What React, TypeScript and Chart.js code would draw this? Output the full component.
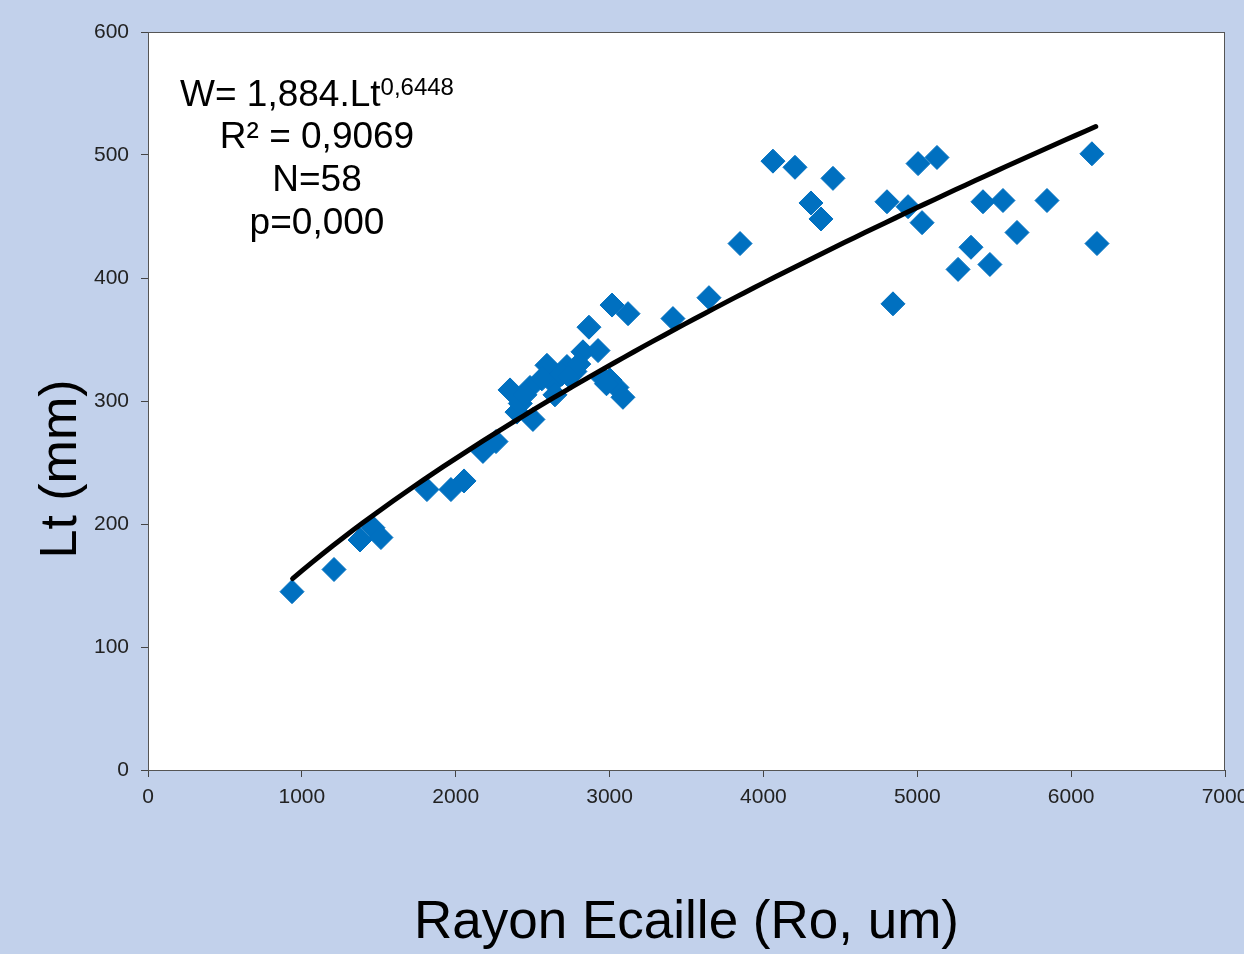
import React, { useEffect, useRef } from 'react';
import { Chart, registerables } from 'chart.js';

Chart.register(...registerables);

// Scatter data: scale radius (um) vs total length (mm)
const rayonValues = [
  936, 1209, 1378, 1462, 1514, 1813, 1969, 2054, 2177, 2262,
  2353, 2398, 2483, 2502, 2593, 2632, 2645, 2723, 2775, 2827,
  2866, 2925, 3003, 3016, 3048, 3087, 3120, 2420, 2560, 2690,
  2740, 2800, 2960, 2980, 2450,
  3412, 3646, 3848, 4062, 4205, 4452, 4309, 4374, 4803, 4940,
  5031, 4842, 5005, 5128, 5427, 5557, 5843, 5648, 5349, 5265,
  5472, 6135, 6168,
];
const longueurValues = [
  145, 163, 187, 197, 189, 228, 228, 235, 259, 267,
  309, 291, 311, 285, 329, 315, 305, 328, 324, 340,
  360, 341, 317, 378, 311, 303, 371, 298, 318, 322,
  320, 330, 318, 314, 305,
  367, 384, 428, 495, 490, 481, 461, 448, 462, 458,
  445, 379, 493, 498, 462, 463, 463, 437, 425, 407,
  411, 501, 428,
];

// Power trend line (from the equation shown on the chart)
const fitA = 1.884;
const fitB = 0.6448;
const fitXStart = 940;
const fitXEnd = 6160;
const fitSteps = 80;

const xTickValues = [0, 1000, 2000, 3000, 4000, 5000, 6000, 7000];
const yTickValues = [0, 100, 200, 300, 400, 500, 600];

const equationLines = ['R² = 0,9069', 'N=58', 'p=0,000'];
const equationMain = 'W= 1,884.Lt';
const equationSup = '0,6448';
const xTitle = 'Rayon Ecaille (Ro, um)';
const yTitle = 'Lt (mm)';

const BG = '#C2D1EB';
const FONT = '"Liberation Sans", Arial, sans-serif';

export default function App() {
  const ref = useRef<HTMLCanvasElement | null>(null);

  useEffect(() => {
    const canvas = ref.current;
    if (!canvas) return;

    const scatterData = rayonValues.map((x, i) => ({ x, y: longueurValues[i] }));
    const trendData: { x: number; y: number }[] = [];
    for (let i = 0; i <= fitSteps; i++) {
      const x = fitXStart + ((fitXEnd - fitXStart) * i) / fitSteps;
      trendData.push({ x, y: fitA * Math.pow(x, fitB) });
    }

    const decorPlugin = {
      id: 'decor',
      beforeDraw(chart: any) {
        const { ctx, chartArea } = chart;
        ctx.save();
        ctx.fillStyle = BG;
        ctx.fillRect(0, 0, chart.width, chart.height);
        ctx.fillStyle = '#FFFFFF';
        ctx.fillRect(chartArea.left, chartArea.top, chartArea.right - chartArea.left, chartArea.bottom - chartArea.top);
        ctx.restore();
      },
      afterDraw(chart: any) {
        const { ctx, chartArea } = chart;
        ctx.save();
        ctx.strokeStyle = '#555555';
        ctx.lineWidth = 1;
        ctx.strokeRect(chartArea.left + 0.5, chartArea.top + 0.5, chartArea.right - chartArea.left - 1, chartArea.bottom - chartArea.top);

        // equation text
        ctx.fillStyle = '#000000';
        ctx.textBaseline = 'alphabetic';
        const cx = 317;
        ctx.font = `37px ${FONT}`;
        const wMain = ctx.measureText(equationMain).width;
        ctx.font = `24px ${FONT}`;
        const wSup = ctx.measureText(equationSup).width;
        const startX = cx - (wMain + wSup) / 2;
        ctx.font = `37px ${FONT}`;
        ctx.textAlign = 'left';
        ctx.fillText(equationMain, startX, 106);
        ctx.font = `24px ${FONT}`;
        ctx.fillText(equationSup, startX + wMain, 95);
        ctx.font = `37px ${FONT}`;
        ctx.textAlign = 'center';
        equationLines.forEach((t, i) => ctx.fillText(t, cx, 148 + i * 43));

        // axis titles
        ctx.font = `53px ${FONT}`;
        ctx.textAlign = 'center';
        ctx.fillText(xTitle, (chartArea.left + chartArea.right) / 2, 938);
        ctx.font = `52px ${FONT}`;
        ctx.translate(76, 469);
        ctx.rotate(-Math.PI / 2);
        ctx.fillText(yTitle, 0, 0);
        ctx.restore();
      },
    };

    const chart = new Chart(canvas, {
      type: 'scatter',
      data: {
        datasets: [
          {
            label: 'Tendance',
            data: trendData,
            showLine: true,
            borderColor: '#000000',
            borderWidth: 5,
            pointRadius: 0,
            pointHoverRadius: 0,
            tension: 0,
            borderCapStyle: 'round',
            order: 0,
          } as any,
          {
            label: 'Lt',
            data: scatterData,
            pointStyle: 'rectRot',
            pointRadius: 12,
            pointHoverRadius: 12,
            backgroundColor: '#0070C0',
            borderColor: '#0070C0',
            borderWidth: 1,
            order: 1,
          } as any,
        ],
      },
      options: {
        responsive: false,
        animation: false,
        devicePixelRatio: 1,
        layout: { padding: { left: 0, right: 19, top: 32, bottom: 124 } },
        plugins: { legend: { display: false }, tooltip: { enabled: false } },
        scales: {
          x: {
            type: 'linear',
            min: 0,
            max: 7000,
            afterBuildTicks: (s: any) => { s.ticks = xTickValues.map((v) => ({ value: v })); },
            afterFit: (s: any) => { s.height = 60; s.paddingLeft = 0; s.paddingRight = 0; },
            ticks: {
              color: '#222222',
              font: { family: FONT, size: 21 },
              padding: 8,
              maxRotation: 0,
              callback: (v: any) => String(v),
            },
            grid: { drawOnChartArea: false, drawTicks: true, tickLength: 7, color: '#444444' },
            border: { display: true, color: '#444444' },
          },
          y: {
            type: 'linear',
            min: 0,
            max: 600,
            afterBuildTicks: (s: any) => { s.ticks = yTickValues.map((v) => ({ value: v })); },
            afterFit: (s: any) => { s.width = 148; s.paddingTop = 0; s.paddingBottom = 0; },
            ticks: {
              color: '#222222',
              font: { family: FONT, size: 21 },
              padding: 12,
              callback: (v: any) => String(v),
            },
            grid: { drawOnChartArea: false, drawTicks: true, tickLength: 7, color: '#444444' },
            border: { display: true, color: '#444444' },
          },
        },
      },
      plugins: [decorPlugin],
    });

    return () => chart.destroy();
  }, []);

  return (
    <div style={{ position: 'fixed', left: 0, top: 0, width: 1244, height: 954, background: BG }}>
      <canvas ref={ref} width={1244} height={954} style={{ display: 'block' }} />
    </div>
  );
}
